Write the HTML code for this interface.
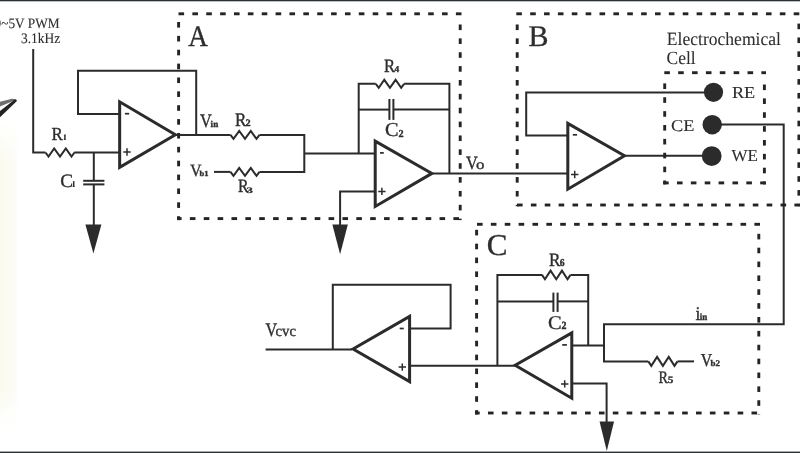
<!DOCTYPE html>
<html><head><meta charset="utf-8"><style>
html,body{margin:0;padding:0;background:#fff;overflow:hidden}
svg{display:block;will-change:transform} text{text-rendering:geometricPrecision}
</style></head><body>
<svg width="800" height="453" viewBox="0 0 800 453">
<rect width="800" height="453" fill="#fff"/>
<polygon points="0,101.8 12,98.8 16.8,99.4 0,106.6" fill="#6e6e6e"/><polygon points="0,111 15,99.2 17.2,100.8 0,117.2" fill="#232323"/><defs><linearGradient id="tint" x1="0" x2="1" y1="0" y2="0"><stop offset="0" stop-color="#fafaee" stop-opacity="1"/><stop offset="0.7" stop-color="#fafaee" stop-opacity="0.6"/><stop offset="1" stop-color="#fafaee" stop-opacity="0"/></linearGradient><linearGradient id="tintv" x1="0" x2="0" y1="0" y2="1"><stop offset="0" stop-color="#fff" stop-opacity="1"/><stop offset="0.15" stop-color="#fff" stop-opacity="0"/><stop offset="0.85" stop-color="#fff" stop-opacity="0"/><stop offset="1" stop-color="#fff" stop-opacity="1"/></linearGradient></defs><rect x="0" y="120" width="20" height="310" fill="url(#tint)"/><rect x="0" y="120" width="20" height="310" fill="url(#tintv)"/><rect x="0" y="0" width="800" height="1.3" fill="#2a3034"/><rect x="0" y="451.6" width="800" height="1.4" fill="#2a3034"/><g fill="none" stroke="#2b2b2b" stroke-width="2" stroke-linejoin="miter"><path d="M33.2,49 V152.5 H45.5"/><path d="M74.2,152.5 H121"/><path d="M93.8,152.5 V180.8"/><path d="M83.2,180.8 H104.4"/><path d="M83.2,184.4 H104.4"/><path d="M93.8,184.4 V226"/><path d="M121,114 H78 V70.8 H196.2 V134.9"/><path d="M176,134.9 H230.5"/><path d="M259.5,134.9 H304.3 V171.9 H259.5"/><path d="M214,171.9 H230.5"/><path d="M304.3,153.5 H376"/><path d="M358.7,153.5 V83.8 H375.8"/><path d="M404.1,83.8 H449.4 V173.4"/><path d="M358.7,109.6 H389.4"/><path d="M393.4,109.6 H449.4"/><path d="M389.4,99 V119.9"/><path d="M393.4,99 V119.9"/><path d="M376,191.4 H340.1 V226"/><path d="M433,173.5 H568"/><path d="M568,135.6 H526.2 V92.6 H713"/><path d="M623,155.8 H711.7"/><path d="M712.4,124.6 H783.7 V324.2 H604 V361.4 H648.3"/><path d="M677.5,361.4 H694"/><path d="M571,345.5 H604"/><path d="M588.2,345.5 V274.9 H570.5"/><path d="M542.3,274.9 H497.4 V365.7"/><path d="M497.4,301.4 H553.4"/><path d="M557.6,301.4 H588.2"/><path d="M553.4,292.6 V311.9"/><path d="M557.6,292.6 V311.9"/><path d="M571,383.5 H606.6 V423"/><path d="M515,365.7 H409"/><path d="M409,328.5 H450.6 V284.7 H332.8 V349.5"/><path d="M352,349.5 H265.6"/><polyline points="45.50,152.50 48.50,156.50 54.20,148.50 60.00,156.50 65.80,148.50 71.50,156.50 74.50,152.50"/><polyline points="230.50,134.90 233.50,138.90 239.20,130.90 245.00,138.90 250.80,130.90 256.50,138.90 259.50,134.90"/><polyline points="230.50,171.90 233.50,175.90 239.20,167.90 245.00,175.90 250.80,167.90 256.50,175.90 259.50,171.90"/><polyline points="375.80,83.80 378.73,87.80 384.29,79.80 389.95,87.80 395.61,79.80 401.17,87.80 404.10,83.80"/><polyline points="542.00,274.90 544.95,279.20 550.55,270.60 556.25,279.20 561.95,270.60 567.55,279.20 570.50,274.90"/><polyline points="648.30,361.40 651.32,365.90 657.06,356.90 662.90,365.90 668.74,356.90 674.48,365.90 677.50,361.40"/></g><g fill="none" stroke="#2b2b2b" stroke-width="3" stroke-linejoin="miter" stroke-miterlimit="10"><polygon points="119.66,101.76 119.66,167.29 175.39000000000001,134.7"/><polygon points="375.22,141.18 375.22,206.46 431.89,173.4"/><polygon points="567.81,123.42 567.81,189.22 624.47,155.8"/><polygon points="571.78,332.95 571.78,398.22 515.19,365.2"/><polygon points="409.59,316.39 409.59,381.64 353.07000000000005,349.0"/></g><polygon points="85.4,224.6 101.4,224.6 93.4,253.6" fill="#2b2b2b"/><polygon points="332.35,224.5 347.85,224.5 340.1,254.2" fill="#2b2b2b"/><polygon points="599.55,421.6 614.05,421.6 606.8,451.1" fill="#2b2b2b"/><circle cx="713.5" cy="92.3" r="9.6" fill="#2b2b2b"/><circle cx="712.2" cy="124.7" r="9.7" fill="#2b2b2b"/><circle cx="711.7" cy="156.1" r="9.9" fill="#2b2b2b"/><g fill="#242424"><rect x="178.50" y="12.35" width="5.60" height="2.9"/><rect x="192.37" y="12.35" width="5.60" height="2.9"/><rect x="206.24" y="12.35" width="5.60" height="2.9"/><rect x="220.11" y="12.35" width="5.60" height="2.9"/><rect x="233.98" y="12.35" width="5.60" height="2.9"/><rect x="247.85" y="12.35" width="5.60" height="2.9"/><rect x="261.72" y="12.35" width="5.60" height="2.9"/><rect x="275.59" y="12.35" width="5.60" height="2.9"/><rect x="289.46" y="12.35" width="5.60" height="2.9"/><rect x="303.33" y="12.35" width="5.60" height="2.9"/><rect x="317.20" y="12.35" width="5.60" height="2.9"/><rect x="331.07" y="12.35" width="5.60" height="2.9"/><rect x="344.94" y="12.35" width="5.60" height="2.9"/><rect x="358.81" y="12.35" width="5.60" height="2.9"/><rect x="372.68" y="12.35" width="5.60" height="2.9"/><rect x="386.55" y="12.35" width="5.60" height="2.9"/><rect x="400.42" y="12.35" width="5.60" height="2.9"/><rect x="414.29" y="12.35" width="5.60" height="2.9"/><rect x="428.16" y="12.35" width="5.60" height="2.9"/><rect x="442.03" y="12.35" width="5.60" height="2.9"/><rect x="455.90" y="12.35" width="5.60" height="2.9"/><rect x="177.15" y="22.00" width="2.9" height="5.60"/><rect x="177.15" y="35.87" width="2.9" height="5.60"/><rect x="177.15" y="49.74" width="2.9" height="5.60"/><rect x="177.15" y="63.61" width="2.9" height="5.60"/><rect x="177.15" y="77.48" width="2.9" height="5.60"/><rect x="177.15" y="91.35" width="2.9" height="5.60"/><rect x="177.15" y="105.22" width="2.9" height="5.60"/><rect x="177.15" y="119.09" width="2.9" height="5.60"/><rect x="177.15" y="132.96" width="2.9" height="5.60"/><rect x="177.15" y="146.83" width="2.9" height="5.60"/><rect x="177.15" y="160.70" width="2.9" height="5.60"/><rect x="177.15" y="174.57" width="2.9" height="5.60"/><rect x="177.15" y="188.44" width="2.9" height="5.60"/><rect x="177.15" y="202.31" width="2.9" height="5.60"/><rect x="177.15" y="216.18" width="2.9" height="3.92"/><rect x="458.75" y="24.50" width="2.9" height="5.60"/><rect x="458.75" y="38.37" width="2.9" height="5.60"/><rect x="458.75" y="52.24" width="2.9" height="5.60"/><rect x="458.75" y="66.11" width="2.9" height="5.60"/><rect x="458.75" y="79.98" width="2.9" height="5.60"/><rect x="458.75" y="93.85" width="2.9" height="5.60"/><rect x="458.75" y="107.72" width="2.9" height="5.60"/><rect x="458.75" y="121.59" width="2.9" height="5.60"/><rect x="458.75" y="135.46" width="2.9" height="5.60"/><rect x="458.75" y="149.33" width="2.9" height="5.60"/><rect x="458.75" y="163.20" width="2.9" height="5.60"/><rect x="458.75" y="177.07" width="2.9" height="5.60"/><rect x="458.75" y="190.94" width="2.9" height="5.60"/><rect x="458.75" y="204.81" width="2.9" height="5.60"/><rect x="458.75" y="218.68" width="2.9" height="1.42"/><rect x="177.10" y="217.15" width="4.50" height="2.9"/><rect x="189.87" y="217.15" width="5.60" height="2.9"/><rect x="203.74" y="217.15" width="5.60" height="2.9"/><rect x="217.61" y="217.15" width="5.60" height="2.9"/><rect x="231.48" y="217.15" width="5.60" height="2.9"/><rect x="245.35" y="217.15" width="5.60" height="2.9"/><rect x="259.22" y="217.15" width="5.60" height="2.9"/><rect x="273.09" y="217.15" width="5.60" height="2.9"/><rect x="286.96" y="217.15" width="5.60" height="2.9"/><rect x="300.83" y="217.15" width="5.60" height="2.9"/><rect x="314.70" y="217.15" width="5.60" height="2.9"/><rect x="328.57" y="217.15" width="5.60" height="2.9"/><rect x="342.44" y="217.15" width="5.60" height="2.9"/><rect x="356.31" y="217.15" width="5.60" height="2.9"/><rect x="370.18" y="217.15" width="5.60" height="2.9"/><rect x="384.05" y="217.15" width="5.60" height="2.9"/><rect x="397.92" y="217.15" width="5.60" height="2.9"/><rect x="411.79" y="217.15" width="5.60" height="2.9"/><rect x="425.66" y="217.15" width="5.60" height="2.9"/><rect x="439.53" y="217.15" width="5.60" height="2.9"/><rect x="453.40" y="217.15" width="5.60" height="2.9"/><rect x="516.30" y="12.35" width="5.60" height="2.9"/><rect x="530.17" y="12.35" width="5.60" height="2.9"/><rect x="544.04" y="12.35" width="5.60" height="2.9"/><rect x="557.91" y="12.35" width="5.60" height="2.9"/><rect x="571.78" y="12.35" width="5.60" height="2.9"/><rect x="585.65" y="12.35" width="5.60" height="2.9"/><rect x="599.52" y="12.35" width="5.60" height="2.9"/><rect x="613.39" y="12.35" width="5.60" height="2.9"/><rect x="627.26" y="12.35" width="5.60" height="2.9"/><rect x="641.13" y="12.35" width="5.60" height="2.9"/><rect x="655.00" y="12.35" width="5.60" height="2.9"/><rect x="668.87" y="12.35" width="5.60" height="2.9"/><rect x="682.74" y="12.35" width="5.60" height="2.9"/><rect x="696.61" y="12.35" width="5.60" height="2.9"/><rect x="710.48" y="12.35" width="5.60" height="2.9"/><rect x="724.35" y="12.35" width="5.60" height="2.9"/><rect x="738.22" y="12.35" width="5.60" height="2.9"/><rect x="752.09" y="12.35" width="5.60" height="2.9"/><rect x="765.96" y="12.35" width="5.60" height="2.9"/><rect x="779.83" y="12.35" width="5.60" height="2.9"/><rect x="793.70" y="12.35" width="5.60" height="2.9"/><rect x="515.75" y="24.50" width="2.9" height="5.60"/><rect x="515.75" y="38.37" width="2.9" height="5.60"/><rect x="515.75" y="52.24" width="2.9" height="5.60"/><rect x="515.75" y="66.11" width="2.9" height="5.60"/><rect x="515.75" y="79.98" width="2.9" height="5.60"/><rect x="515.75" y="93.85" width="2.9" height="5.60"/><rect x="515.75" y="107.72" width="2.9" height="5.60"/><rect x="515.75" y="121.59" width="2.9" height="5.60"/><rect x="515.75" y="135.46" width="2.9" height="5.60"/><rect x="515.75" y="149.33" width="2.9" height="5.60"/><rect x="515.75" y="163.20" width="2.9" height="5.60"/><rect x="515.75" y="177.07" width="2.9" height="5.60"/><rect x="515.75" y="190.94" width="2.9" height="5.60"/><rect x="515.75" y="204.81" width="2.9" height="1.39"/><rect x="797.45" y="23.60" width="2.9" height="5.60"/><rect x="797.45" y="37.47" width="2.9" height="5.60"/><rect x="797.45" y="51.34" width="2.9" height="5.60"/><rect x="797.45" y="65.21" width="2.9" height="5.60"/><rect x="797.45" y="79.08" width="2.9" height="5.60"/><rect x="797.45" y="92.95" width="2.9" height="5.60"/><rect x="797.45" y="106.82" width="2.9" height="5.60"/><rect x="797.45" y="120.69" width="2.9" height="5.60"/><rect x="797.45" y="134.56" width="2.9" height="5.60"/><rect x="797.45" y="148.43" width="2.9" height="5.60"/><rect x="797.45" y="162.30" width="2.9" height="5.60"/><rect x="797.45" y="176.17" width="2.9" height="5.60"/><rect x="797.45" y="190.04" width="2.9" height="5.60"/><rect x="797.45" y="203.91" width="2.9" height="2.29"/><rect x="517.00" y="203.55" width="5.60" height="2.9"/><rect x="530.87" y="203.55" width="5.60" height="2.9"/><rect x="544.74" y="203.55" width="5.60" height="2.9"/><rect x="558.61" y="203.55" width="5.60" height="2.9"/><rect x="572.48" y="203.55" width="5.60" height="2.9"/><rect x="586.35" y="203.55" width="5.60" height="2.9"/><rect x="600.22" y="203.55" width="5.60" height="2.9"/><rect x="614.09" y="203.55" width="5.60" height="2.9"/><rect x="627.96" y="203.55" width="5.60" height="2.9"/><rect x="641.83" y="203.55" width="5.60" height="2.9"/><rect x="655.70" y="203.55" width="5.60" height="2.9"/><rect x="669.57" y="203.55" width="5.60" height="2.9"/><rect x="683.44" y="203.55" width="5.60" height="2.9"/><rect x="697.31" y="203.55" width="5.60" height="2.9"/><rect x="711.18" y="203.55" width="5.60" height="2.9"/><rect x="725.05" y="203.55" width="5.60" height="2.9"/><rect x="738.92" y="203.55" width="5.60" height="2.9"/><rect x="752.79" y="203.55" width="5.60" height="2.9"/><rect x="766.66" y="203.55" width="5.60" height="2.9"/><rect x="780.53" y="203.55" width="5.60" height="2.9"/><rect x="794.40" y="203.55" width="5.60" height="2.9"/><rect x="664.30" y="71.25" width="5.60" height="2.9"/><rect x="678.17" y="71.25" width="5.60" height="2.9"/><rect x="692.04" y="71.25" width="5.60" height="2.9"/><rect x="705.91" y="71.25" width="5.60" height="2.9"/><rect x="719.78" y="71.25" width="5.60" height="2.9"/><rect x="733.65" y="71.25" width="5.60" height="2.9"/><rect x="747.52" y="71.25" width="5.60" height="2.9"/><rect x="761.39" y="71.25" width="4.61" height="2.9"/><rect x="663.25" y="83.40" width="2.9" height="5.60"/><rect x="663.25" y="97.27" width="2.9" height="5.60"/><rect x="663.25" y="111.14" width="2.9" height="5.60"/><rect x="663.25" y="125.01" width="2.9" height="5.60"/><rect x="663.25" y="138.88" width="2.9" height="5.60"/><rect x="663.25" y="152.75" width="2.9" height="5.60"/><rect x="663.25" y="166.62" width="2.9" height="5.60"/><rect x="663.25" y="180.49" width="2.9" height="3.91"/><rect x="762.95" y="84.50" width="2.9" height="5.60"/><rect x="762.95" y="98.37" width="2.9" height="5.60"/><rect x="762.95" y="112.24" width="2.9" height="5.60"/><rect x="762.95" y="126.11" width="2.9" height="5.60"/><rect x="762.95" y="139.98" width="2.9" height="5.60"/><rect x="762.95" y="153.85" width="2.9" height="5.60"/><rect x="762.95" y="167.72" width="2.9" height="5.60"/><rect x="762.95" y="181.59" width="2.9" height="2.81"/><rect x="663.20" y="181.45" width="5.50" height="2.9"/><rect x="676.97" y="181.45" width="5.60" height="2.9"/><rect x="690.84" y="181.45" width="5.60" height="2.9"/><rect x="704.71" y="181.45" width="5.60" height="2.9"/><rect x="718.58" y="181.45" width="5.60" height="2.9"/><rect x="732.45" y="181.45" width="5.60" height="2.9"/><rect x="746.32" y="181.45" width="5.60" height="2.9"/><rect x="760.19" y="181.45" width="5.60" height="2.9"/><rect x="477.00" y="222.85" width="5.60" height="2.9"/><rect x="490.87" y="222.85" width="5.60" height="2.9"/><rect x="504.74" y="222.85" width="5.60" height="2.9"/><rect x="518.61" y="222.85" width="5.60" height="2.9"/><rect x="532.48" y="222.85" width="5.60" height="2.9"/><rect x="546.35" y="222.85" width="5.60" height="2.9"/><rect x="560.22" y="222.85" width="5.60" height="2.9"/><rect x="574.09" y="222.85" width="5.60" height="2.9"/><rect x="587.96" y="222.85" width="5.60" height="2.9"/><rect x="601.83" y="222.85" width="5.60" height="2.9"/><rect x="615.70" y="222.85" width="5.60" height="2.9"/><rect x="629.57" y="222.85" width="5.60" height="2.9"/><rect x="643.44" y="222.85" width="5.60" height="2.9"/><rect x="657.31" y="222.85" width="5.60" height="2.9"/><rect x="671.18" y="222.85" width="5.60" height="2.9"/><rect x="685.05" y="222.85" width="5.60" height="2.9"/><rect x="698.92" y="222.85" width="5.60" height="2.9"/><rect x="712.79" y="222.85" width="5.60" height="2.9"/><rect x="726.66" y="222.85" width="5.60" height="2.9"/><rect x="740.53" y="222.85" width="5.60" height="2.9"/><rect x="754.40" y="222.85" width="5.60" height="2.9"/><rect x="475.15" y="229.80" width="2.9" height="5.60"/><rect x="475.15" y="243.67" width="2.9" height="5.60"/><rect x="475.15" y="257.54" width="2.9" height="5.60"/><rect x="475.15" y="271.41" width="2.9" height="5.60"/><rect x="475.15" y="285.28" width="2.9" height="5.60"/><rect x="475.15" y="299.15" width="2.9" height="5.60"/><rect x="475.15" y="313.02" width="2.9" height="5.60"/><rect x="475.15" y="326.89" width="2.9" height="5.60"/><rect x="475.15" y="340.76" width="2.9" height="5.60"/><rect x="475.15" y="354.63" width="2.9" height="5.60"/><rect x="475.15" y="368.50" width="2.9" height="5.60"/><rect x="475.15" y="382.37" width="2.9" height="5.60"/><rect x="475.15" y="396.24" width="2.9" height="5.60"/><rect x="475.15" y="410.11" width="2.9" height="4.39"/><rect x="757.35" y="233.80" width="2.9" height="5.60"/><rect x="757.35" y="247.67" width="2.9" height="5.60"/><rect x="757.35" y="261.54" width="2.9" height="5.60"/><rect x="757.35" y="275.41" width="2.9" height="5.60"/><rect x="757.35" y="289.28" width="2.9" height="5.60"/><rect x="757.35" y="303.15" width="2.9" height="5.60"/><rect x="757.35" y="317.02" width="2.9" height="5.60"/><rect x="757.35" y="330.89" width="2.9" height="5.60"/><rect x="757.35" y="344.76" width="2.9" height="5.60"/><rect x="757.35" y="358.63" width="2.9" height="5.60"/><rect x="757.35" y="372.50" width="2.9" height="5.60"/><rect x="757.35" y="386.37" width="2.9" height="5.60"/><rect x="757.35" y="400.24" width="2.9" height="5.60"/><rect x="757.35" y="414.11" width="2.9" height="0.39"/><rect x="475.00" y="411.55" width="4.70" height="2.9"/><rect x="487.97" y="411.55" width="5.60" height="2.9"/><rect x="501.84" y="411.55" width="5.60" height="2.9"/><rect x="515.71" y="411.55" width="5.60" height="2.9"/><rect x="529.58" y="411.55" width="5.60" height="2.9"/><rect x="543.45" y="411.55" width="5.60" height="2.9"/><rect x="557.32" y="411.55" width="5.60" height="2.9"/><rect x="571.19" y="411.55" width="5.60" height="2.9"/><rect x="585.06" y="411.55" width="5.60" height="2.9"/><rect x="598.93" y="411.55" width="5.60" height="2.9"/><rect x="612.80" y="411.55" width="5.60" height="2.9"/><rect x="626.67" y="411.55" width="5.60" height="2.9"/><rect x="640.54" y="411.55" width="5.60" height="2.9"/><rect x="654.41" y="411.55" width="5.60" height="2.9"/><rect x="668.28" y="411.55" width="5.60" height="2.9"/><rect x="682.15" y="411.55" width="5.60" height="2.9"/><rect x="696.02" y="411.55" width="5.60" height="2.9"/><rect x="709.89" y="411.55" width="5.60" height="2.9"/><rect x="723.76" y="411.55" width="5.60" height="2.9"/><rect x="737.63" y="411.55" width="5.60" height="2.9"/><rect x="751.50" y="411.55" width="5.60" height="2.9"/></g><path d="M124.9,113.7 H129.2" stroke="#2b2b2b" stroke-width="1.7"/><path d="M123.3,152 h7.4 M127,148.3 v7.4" stroke="#2b2b2b" stroke-width="1.5"/><path d="M380,152.9 H383.8" stroke="#2b2b2b" stroke-width="1.7"/><path d="M378.2,191.4 h7.4 M381.9,187.70000000000002 v7.4" stroke="#2b2b2b" stroke-width="1.5"/><path d="M572.8,134.8 H577.1" stroke="#2b2b2b" stroke-width="1.7"/><path d="M571.0,174.5 h7.4 M574.7,170.8 v7.4" stroke="#2b2b2b" stroke-width="1.5"/><path d="M562.2,344.9 H566.9" stroke="#2b2b2b" stroke-width="1.7"/><path d="M561.0,383.9 h7.4 M564.7,380.2 v7.4" stroke="#2b2b2b" stroke-width="1.5"/><path d="M399.7,328.5 H403.8" stroke="#2b2b2b" stroke-width="1.7"/><path d="M398.6,367.1 h7.4 M402.3,363.40000000000003 v7.4" stroke="#2b2b2b" stroke-width="1.5"/><g font-family="Liberation Serif" fill="#2e2e2e"><text transform="translate(1.20,28.06) scale(0.1333,0.1424)" font-size="100" stroke="#2e2e2e" stroke-width="0.73">~5V PWM</text><text transform="translate(20.93,42.85) scale(0.1345,0.1457)" font-size="100" stroke="#2e2e2e" stroke-width="0.71">3.1kHz</text><text transform="translate(188.23,46.00) scale(0.2714,0.2955)" font-size="100" stroke="#2e2e2e" stroke-width="1.06">A</text><text transform="translate(528.60,45.80) scale(0.3000,0.2985)" font-size="100" stroke="#2e2e2e" stroke-width="1.00">B</text><text transform="translate(486.66,254.80) scale(0.3105,0.3030)" font-size="100" stroke="#2e2e2e" stroke-width="0.98">C</text><text transform="translate(666.77,44.81) scale(0.1758,0.1857)" font-size="100" stroke="#2e2e2e" stroke-width="0.28">Electrochemical</text><text transform="translate(666.60,64.41) scale(0.1745,0.1857)" font-size="100" stroke="#2e2e2e" stroke-width="0.28">Cell</text><text transform="translate(731.95,97.60) scale(0.1825,0.1669)" font-size="100" stroke="#2e2e2e" stroke-width="0.57">RE</text><text transform="translate(670.97,130.84) scale(0.1832,0.1642)" font-size="100" stroke="#2e2e2e" stroke-width="0.58">CE</text><text transform="translate(731.50,161.33) scale(0.1702,0.1682)" font-size="100" stroke="#2e2e2e" stroke-width="0.59">WE</text><text transform="translate(51.59,139.90) scale(0.1703,0.1831)" font-size="100" stroke="#2e2e2e" stroke-width="1.98">R</text><text transform="translate(60.34,186.81) scale(0.1912,0.1896)" font-size="100" stroke="#2e2e2e" stroke-width="1.84">C</text><text transform="translate(199.94,127.01) scale(0.1629,0.1909)" font-size="100" stroke="#2e2e2e" stroke-width="1.98">V</text><text transform="translate(210.62,127.20) scale(0.0912,0.0913)" font-size="100" font-weight="bold" stroke="#2e2e2e" stroke-width="3.83">in</text><text transform="translate(235.09,125.70) scale(0.1703,0.1908)" font-size="100" stroke="#2e2e2e" stroke-width="1.94">R</text><text transform="translate(245.39,125.70) scale(0.1024,0.0985)" font-size="100" font-weight="bold" stroke="#2e2e2e" stroke-width="3.48">2</text><text transform="translate(190.04,175.53) scale(0.1614,0.1742)" font-size="100" stroke="#2e2e2e" stroke-width="2.09">V</text><text transform="translate(199.41,175.62) scale(0.0859,0.0771)" font-size="100" font-weight="bold" stroke="#2e2e2e" stroke-width="4.29">b1</text><text transform="translate(237.93,192.30) scale(0.1578,0.1862)" font-size="100" stroke="#2e2e2e" stroke-width="2.04">R</text><text transform="translate(246.49,192.72) scale(0.1279,0.0836)" font-size="100" font-weight="bold" stroke="#2e2e2e" stroke-width="3.31">3</text><text transform="translate(383.90,72.30) scale(0.1656,0.1877)" font-size="100" stroke="#2e2e2e" stroke-width="1.98">R</text><text transform="translate(394.41,72.30) scale(0.0936,0.0894)" font-size="100" font-weight="bold" stroke="#2e2e2e" stroke-width="3.82">4</text><text transform="translate(385.09,136.30) scale(0.2035,0.1970)" font-size="100" stroke="#2e2e2e" stroke-width="1.75">C</text><text transform="translate(398.49,136.50) scale(0.1024,0.1076)" font-size="100" font-weight="bold" stroke="#2e2e2e" stroke-width="3.33">2</text><text transform="translate(465.94,168.71) scale(0.1629,0.1864)" font-size="100" stroke="#2e2e2e" stroke-width="2.00">V</text><text transform="translate(476.02,168.76) scale(0.1690,0.1417)" font-size="100" stroke="#2e2e2e" stroke-width="2.25">o</text><text transform="translate(548.98,265.80) scale(0.1719,0.1877)" font-size="100" stroke="#2e2e2e" stroke-width="1.95">R</text><text transform="translate(559.71,265.69) scale(0.0977,0.1060)" font-size="100" font-weight="bold" stroke="#2e2e2e" stroke-width="3.44">6</text><text transform="translate(547.98,328.61) scale(0.2053,0.1940)" font-size="100" stroke="#2e2e2e" stroke-width="1.75">C</text><text transform="translate(561.40,328.80) scale(0.1000,0.1091)" font-size="100" font-weight="bold" stroke="#2e2e2e" stroke-width="3.35">2</text><text transform="translate(695.45,320.00) scale(0.1750,0.1955)" font-size="100" stroke="#2e2e2e" stroke-width="1.89">i</text><text transform="translate(699.82,320.00) scale(0.0900,0.0957)" font-size="100" font-weight="bold" stroke="#2e2e2e" stroke-width="3.77">in</text><text transform="translate(700.84,365.82) scale(0.1571,0.1818)" font-size="100" stroke="#2e2e2e" stroke-width="2.07">V</text><text transform="translate(710.41,365.91) scale(0.0900,0.0857)" font-size="100" font-weight="bold" stroke="#2e2e2e" stroke-width="3.98">b2</text><text transform="translate(658.58,383.00) scale(0.1406,0.1769)" font-size="100" stroke="#2e2e2e" stroke-width="2.20">R</text><text transform="translate(667.85,382.90) scale(0.1119,0.0985)" font-size="100" font-weight="bold" stroke="#2e2e2e" stroke-width="3.33">5</text><text transform="translate(265.54,335.91) scale(0.1614,0.1909)" font-size="100" stroke="#2e2e2e" stroke-width="1.99">V</text><text transform="translate(275.51,335.94) scale(0.1477,0.1562)" font-size="100" stroke="#2e2e2e" stroke-width="2.30">cvc</text><text transform="translate(1.20,28.06) scale(0.1333,0.1424)" font-size="100" text-anchor="end">0</text></g><path d="M64.70,134.20 L65.65,134.20 L65.65,139.40 L66.10,139.40 L66.10,139.90 L63.70,139.90 L63.70,139.40 L64.15,139.40 L64.15,135.40 L63.70,135.70 Z" fill="#2e2e2e"/><path d="M73.50,180.90 L74.45,180.90 L74.45,186.50 L75.00,186.50 L75.00,187.00 L72.40,187.00 L72.40,186.50 L72.95,186.50 L72.95,182.10 L72.40,182.40 Z" fill="#2e2e2e"/>
</svg>
</body></html>
